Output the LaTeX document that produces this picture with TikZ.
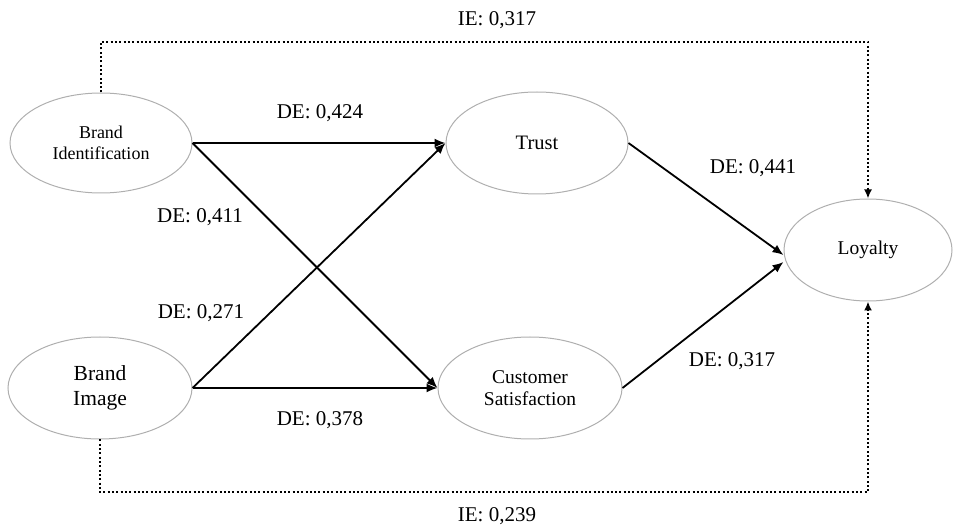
\documentclass[tikz,border=0pt]{standalone}
\usepackage{fontspec}
\setmainfont{Liberation Serif}
\usetikzlibrary{shapes.geometric,arrows.meta,calc}
\definecolor{ellgray}{RGB}{175,175,175}
\begin{document}
\begin{tikzpicture}[x=1pt,y=-1pt,
  latent/.style={ellipse,draw=ellgray,line width=1pt,inner sep=0pt,align=center},
  de/.style={-{Latex[length=11pt,width=9pt]},line width=1.8pt,black},
  ie/.style={-{Latex[length=9pt,width=8pt]},line width=2.4pt,dash pattern=on 2pt off 2.3pt,black},
  lab/.style={font=\fontsize{21}{25}\selectfont,inner sep=0pt}
]
\useasboundingbox (0,0) rectangle (954,529);
\node[latent,minimum width=182pt,minimum height=100pt,font=\fontsize{18}{21}\selectfont] (BI) at (101,143) {Brand\\Identification};
\node[latent,minimum width=184pt,minimum height=102pt,font=\fontsize{21.5}{25}\selectfont] (BM) at (100,388) {Brand\\Image};
\node[latent,minimum width=182pt,minimum height=102pt,font=\fontsize{20.5}{24}\selectfont] (T) at (537,143) {Trust};
\node[latent,minimum width=184pt,minimum height=102pt,font=\fontsize{19.5}{22}\selectfont] (CS) at (530,388) {Customer\\Satisfaction};
\node[latent,minimum width=168pt,minimum height=102pt,font=\fontsize{19.5}{23}\selectfont] (L) at (868,250) {Loyalty};
\coordinate (topc) at (500,42);
\coordinate (botc) at (500,492);
\draw[de] (BI.east) -- (T.west);
\draw[de] (BI.east) -- (CS.west);
\draw[de] (BM.east) -- (T.west);
\draw[de] (BM.east) -- (CS.west);
\draw[de] (T.east) -- ($(L.west)+(0,5)$);
\draw[de] (CS.east) -- ($(L.west)+(0,12)$);
\draw[ie] (BI.north) |- (topc) -| (L.north);
\draw[ie] (BM.south) |- (botc) -| (L.south);
\node[lab] (l1) at (320,113) {DE: 0,424};
\node[lab] (l2) at (200,217) {DE: 0,411};
\node[lab] (l3) at (201,313) {DE: 0,271};
\node[lab] (l4) at (320,420) {DE: 0,378};
\node[lab] (l5) at (753,168) {DE: 0,441};
\node[lab] (l6) at (732,361) {DE: 0,317};
\node[lab] (i1) at (497,20) {IE: 0,317};
\node[lab] (i2) at (497,516) {IE: 0,239};
\end{tikzpicture}
\end{document}
